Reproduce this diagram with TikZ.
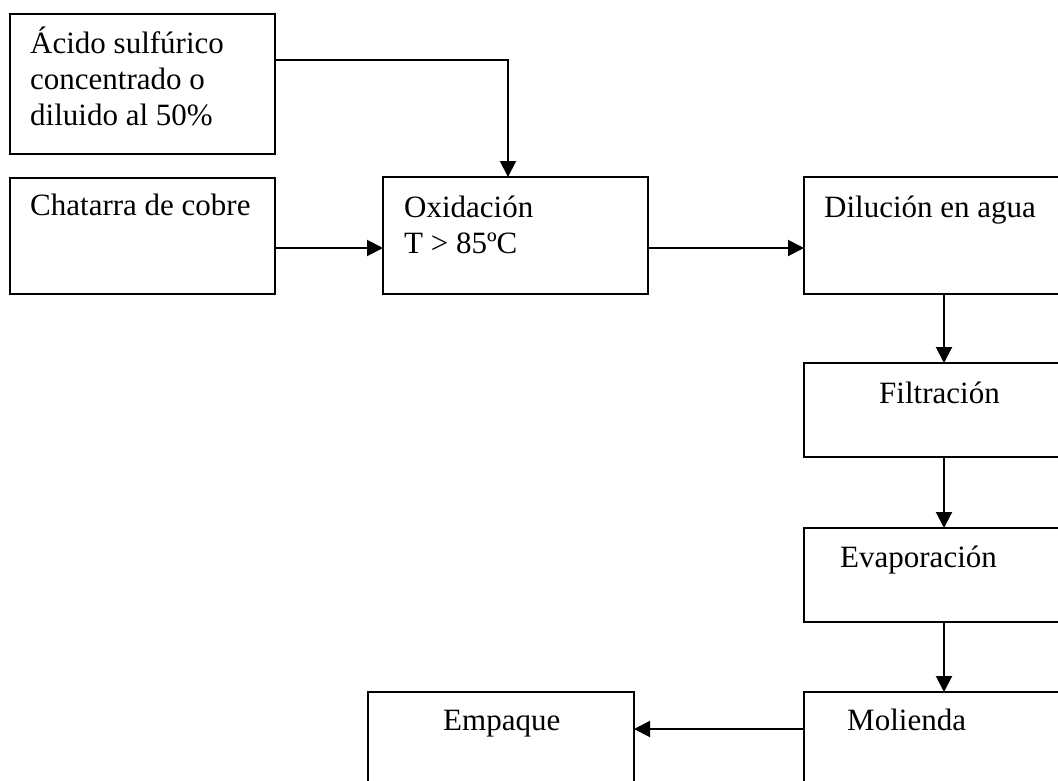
\documentclass[tikz,border=0pt]{standalone}
\usepackage{fontspec}
\setmainfont{Liberation Serif}
\usetikzlibrary{arrows.meta}
\begin{document}
\begin{tikzpicture}[x=1pt,y=-1pt,
  stepbox/.style={draw,line width=2.3pt,inner sep=0pt},
  lbl/.style={anchor=base west,inner sep=0pt,align=left,
    font=\fontsize{31}{36}\selectfont},
  flow/.style={line width=2pt,-{Triangle[length=16pt,width=16pt]}}]
\useasboundingbox (0,0) rectangle (1058,780);
\clip (0,0) rectangle (1058,780);
% process boxes
\path[stepbox] (10,14) rectangle (275,154) node[pos=0.5,inner sep=0pt] (acido) {};
\path[stepbox] (10,178) rectangle (275,294) node[pos=0.5,inner sep=0pt] (chatarra) {};
\path[stepbox] (383,177) rectangle (648,294) node[pos=0.5,inner sep=0pt] (oxid) {};
\path[stepbox] (804,177) rectangle (1070,294) node[pos=0.5,inner sep=0pt] (dilu) {};
\path[stepbox] (804,363) rectangle (1070,457) node[pos=0.5,inner sep=0pt] (filt) {};
\path[stepbox] (804,528) rectangle (1070,622) node[pos=0.5,inner sep=0pt] (evap) {};
\path[stepbox] (804,692) rectangle (1070,820) node[pos=0.5,inner sep=0pt] (moli) {};
\path[stepbox] (368,692) rectangle (634,820) node[pos=0.5,inner sep=0pt] (empa) {};
% box edges as named points
\coordinate (acidoE) at (275,60);
\coordinate (oxidN) at (508,177);
\coordinate (chatE) at (275,248);
\coordinate (oxidW) at (383,248);
\coordinate (oxidE) at (648,248);
\coordinate (diluW) at (804,248);
\coordinate (diluS) at (944,294);
\coordinate (filtN) at (944,363);
\coordinate (filtS) at (944,457);
\coordinate (evapN) at (944,528);
\coordinate (evapS) at (944,622);
\coordinate (moliN) at (944,692);
\coordinate (moliW) at (804,729);
\coordinate (empaE) at (634,729);
% labels (multi-line labels are placed by their last baseline)
\node[lbl] (tA) at (30,125) {Ácido sulfúrico\\concentrado o\\diluido al 50\%};
\node[lbl] (tB) at (30,215) {Chatarra de cobre};
\node[lbl] (tC) at (404,253) {Oxidación\\T > 85ºC};
\node[lbl] (tD) at (824,217) {Dilución en agua};
\node[lbl] (tF) at (879,403) {Filtración};
\node[lbl] (tE) at (840,567) {Evaporación};
\node[lbl] (tM) at (847,730) {Molienda};
\node[lbl] (tP) at (443,730) {Empaque};
% connectors
\draw[flow] (acidoE) -| (oxidN);
\draw[flow] (chatE) -- (oxidW);
\draw[flow] (oxidE) -- (diluW);
\draw[flow] (diluS) -- (filtN);
\draw[flow] (filtS) -- (evapN);
\draw[flow] (evapS) -- (moliN);
\draw[flow] (moliW) -- (empaE);
\end{tikzpicture}
\end{document}
